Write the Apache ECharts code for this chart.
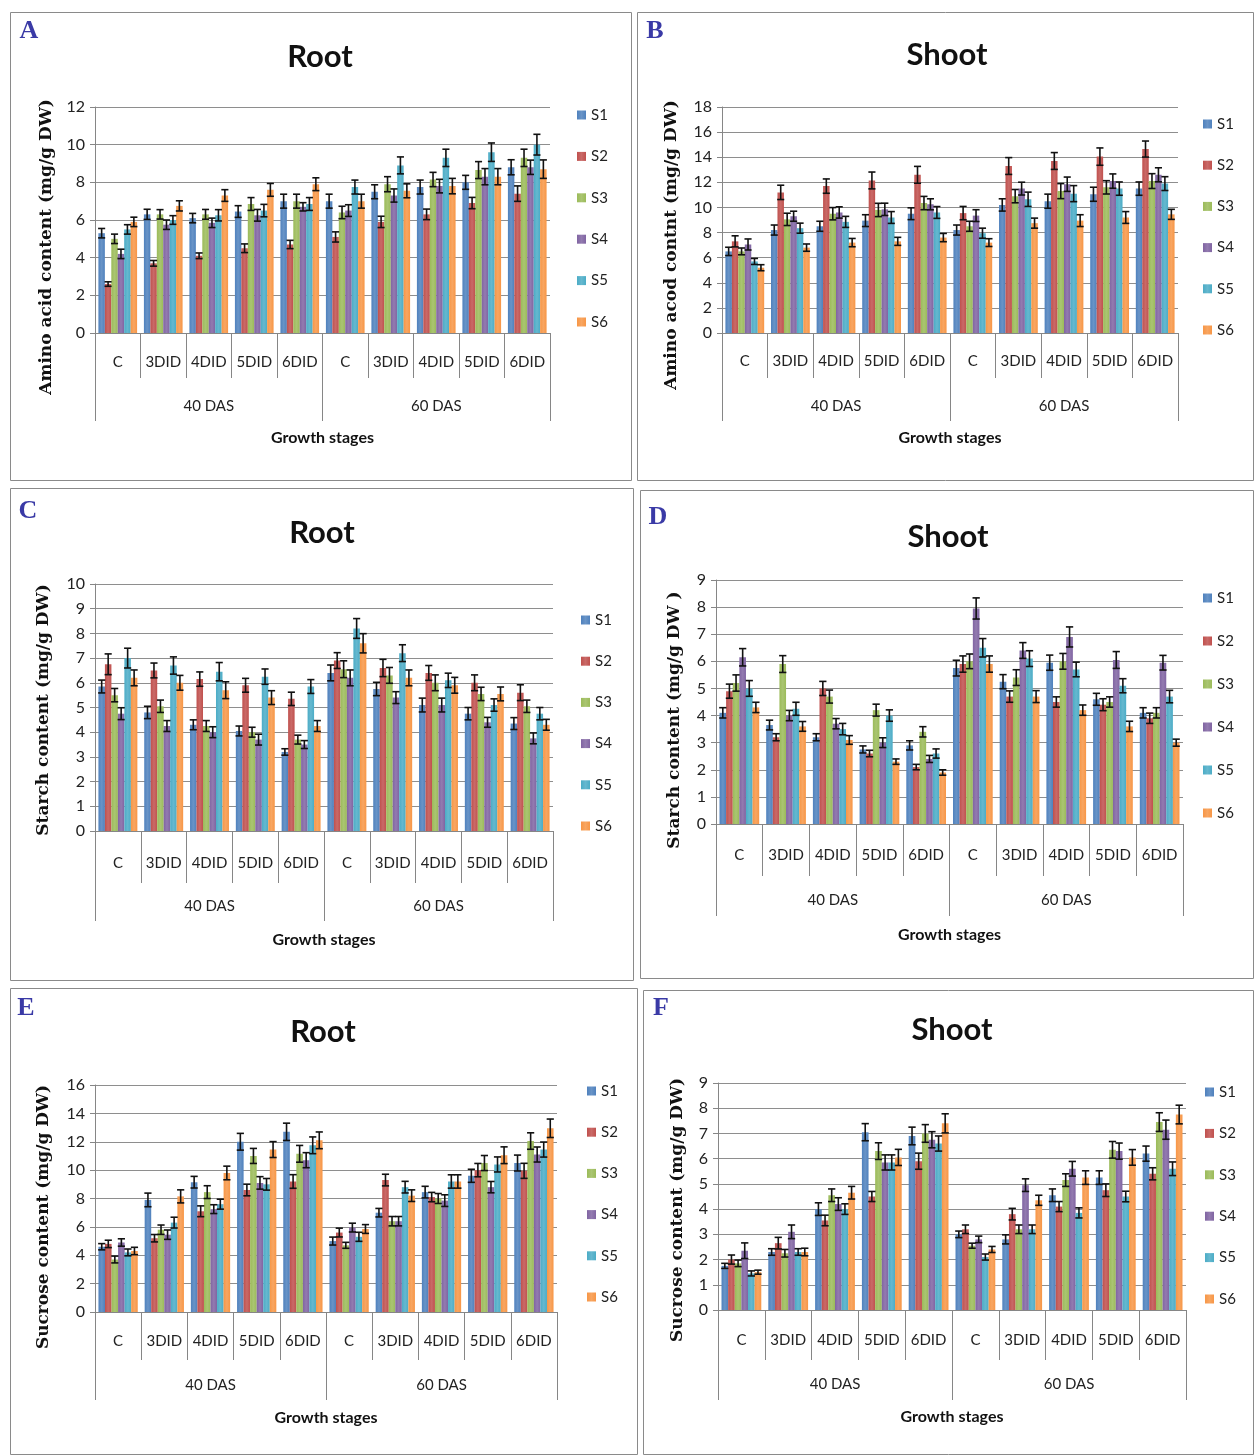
<!DOCTYPE html>
<html><head><meta charset="utf-8">
<script src="https://cdn.jsdelivr.net/npm/echarts@6/dist/echarts.min.js"></script>
<style>html,body{margin:0;padding:0;background:#fff}#c{width:1254px;height:1455px}</style>
</head><body><div id="c"></div><script>
// ---------------- DATA ----------------
const categories = ['C','3DID','4DID','5DID','6DID','C','3DID','4DID','5DID','6DID'];
const stages = ['40 DAS','60 DAS'];
const seriesNames = ['S1','S2','S3','S4','S5','S6'];

// A: Root amino acid (rows S1..S6, columns = categories)
const rootAminoMean = [
 [5.3, 6.3, 6.1, 6.45, 7.0, 7.0, 7.5, 7.75, 8.0, 8.8],
 [2.6, 3.7, 4.1, 4.5, 4.7, 5.1, 5.9, 6.3, 6.9, 7.4],
 [5.0, 6.3, 6.3, 6.85, 7.0, 6.4, 7.9, 8.15, 8.65, 9.3],
 [4.2, 5.75, 5.85, 6.25, 6.7, 6.5, 7.3, 7.8, 8.3, 8.8],
 [5.5, 6.0, 6.25, 6.5, 6.85, 7.75, 8.9, 9.3, 9.6, 10.0],
 [5.9, 6.75, 7.3, 7.6, 7.9, 7.0, 7.55, 7.8, 8.3, 8.7]];
const rootAminoErr = [
 [0.25,0.27,0.25,0.31,0.37,0.37,0.37,0.37,0.37,0.4],
 [0.12,0.15,0.15,0.23,0.22,0.27,0.3,0.28,0.3,0.41],
 [0.25,0.25,0.26,0.34,0.37,0.33,0.4,0.38,0.45,0.46],
 [0.25,0.25,0.25,0.31,0.22,0.31,0.35,0.36,0.43,0.38],
 [0.25,0.23,0.3,0.33,0.34,0.37,0.45,0.46,0.49,0.55],
 [0.25,0.27,0.31,0.34,0.34,0.37,0.37,0.41,0.43,0.49]];
const rootAminoTicks = [0,2,4,6,8,10,12];

// B: Shoot amino acid
const shootAminoMean = [
 [6.5, 8.2, 8.5, 8.95, 9.5, 8.2, 10.2, 10.5, 11.05, 11.5],
 [7.3, 11.2, 11.7, 12.15, 12.6, 9.55, 13.3, 13.7, 14.05, 14.65],
 [6.5, 9.05, 9.5, 9.8, 10.35, 8.5, 10.9, 11.3, 11.6, 12.1],
 [7.05, 9.3, 9.6, 9.85, 10.25, 9.35, 11.5, 11.85, 12.1, 12.6],
 [5.7, 8.35, 8.85, 9.2, 9.6, 7.95, 10.65, 11.1, 11.5, 11.9],
 [5.2, 6.8, 7.2, 7.3, 7.6, 7.2, 8.75, 8.95, 9.2, 9.45]];
const shootAminoErr = [
 [0.33,0.4,0.4,0.47,0.47,0.4,0.49,0.56,0.56,0.53],
 [0.44,0.57,0.57,0.67,0.67,0.53,0.67,0.67,0.69,0.64],
 [0.27,0.49,0.49,0.53,0.53,0.4,0.53,0.6,0.53,0.59],
 [0.44,0.4,0.45,0.49,0.44,0.47,0.51,0.57,0.57,0.56],
 [0.24,0.4,0.44,0.47,0.47,0.4,0.57,0.64,0.53,0.55],
 [0.24,0.29,0.33,0.32,0.33,0.31,0.4,0.47,0.47,0.4]];
const shootAminoTicks = [0,2,4,6,8,10,12,14,16,18];

// C: Root starch
const rootStarchMean = [
 [5.85, 4.8, 4.3, 4.05, 3.2, 6.4, 5.75, 5.1, 4.75, 4.35],
 [6.75, 6.5, 6.15, 5.9, 5.35, 6.9, 6.6, 6.4, 6.0, 5.6],
 [5.5, 5.05, 4.25, 4.0, 3.7, 6.55, 6.3, 6.0, 5.55, 5.05],
 [4.75, 4.25, 4.0, 3.7, 3.5, 6.2, 5.4, 5.1, 4.4, 3.75],
 [7.0, 6.7, 6.45, 6.25, 5.85, 8.2, 7.2, 6.1, 5.1, 4.75],
 [6.2, 6.0, 5.7, 5.4, 4.25, 7.6, 6.2, 5.9, 5.55, 4.3]];
const rootStarchErr = [
 [0.26,0.25,0.2,0.2,0.13,0.32,0.27,0.28,0.25,0.24],
 [0.42,0.3,0.29,0.28,0.27,0.32,0.35,0.3,0.32,0.32],
 [0.27,0.25,0.22,0.2,0.18,0.34,0.32,0.32,0.27,0.25],
 [0.24,0.22,0.22,0.22,0.16,0.32,0.24,0.28,0.2,0.22],
 [0.4,0.35,0.37,0.31,0.28,0.4,0.34,0.29,0.25,0.25],
 [0.32,0.3,0.34,0.28,0.22,0.39,0.32,0.32,0.28,0.22]];
const rootStarchTicks = [0,1,2,3,4,5,6,7,8,9,10];

// D: Shoot starch
const shootStarchMean = [
 [4.1, 3.65, 3.2, 2.75, 2.9, 5.75, 5.25, 5.95, 4.6, 4.1],
 [4.9, 3.2, 5.0, 2.6, 2.1, 5.9, 4.7, 4.5, 4.4, 3.9],
 [5.2, 5.9, 4.7, 4.2, 3.4, 6.0, 5.4, 6.0, 4.5, 4.1],
 [6.15, 4.0, 3.7, 3.0, 2.4, 7.95, 6.4, 6.9, 6.05, 5.95],
 [5.0, 4.25, 3.5, 4.0, 2.6, 6.5, 6.1, 5.7, 5.1, 4.7],
 [4.3, 3.6, 3.1, 2.3, 1.9, 5.9, 4.7, 4.2, 3.6, 3.0]];
const shootStarchErr = [
 [0.19,0.18,0.13,0.13,0.17,0.29,0.26,0.28,0.22,0.19],
 [0.26,0.13,0.26,0.12,0.1,0.3,0.21,0.19,0.22,0.19],
 [0.3,0.31,0.24,0.22,0.19,0.27,0.29,0.29,0.19,0.19],
 [0.32,0.19,0.19,0.18,0.13,0.39,0.29,0.37,0.31,0.27],
 [0.29,0.24,0.21,0.21,0.17,0.34,0.29,0.27,0.26,0.23],
 [0.19,0.18,0.16,0.1,0.1,0.3,0.22,0.19,0.19,0.13]];
const shootStarchTicks = [0,1,2,3,4,5,6,7,8,9];

// E: Root sucrose
const rootSucroseMean = [
 [4.6, 7.9, 9.15, 12.0, 12.7, 5.0, 7.0, 8.45, 9.6, 10.5],
 [4.8, 5.2, 7.1, 8.6, 9.2, 5.6, 9.3, 8.1, 10.0, 9.95],
 [3.7, 5.8, 8.45, 11.0, 11.15, 4.7, 6.4, 8.0, 10.5, 12.05],
 [4.9, 5.45, 7.25, 9.1, 10.7, 5.95, 6.4, 7.85, 8.8, 11.1],
 [4.2, 6.3, 7.6, 9.0, 11.75, 5.3, 8.8, 9.2, 10.4, 11.45],
 [4.3, 8.15, 9.8, 11.45, 12.1, 5.85, 8.2, 9.2, 11.05, 12.95]];
const rootSucroseErr = [
 [0.22,0.48,0.41,0.59,0.61,0.28,0.3,0.41,0.46,0.56],
 [0.26,0.26,0.38,0.41,0.48,0.31,0.41,0.33,0.47,0.53],
 [0.24,0.33,0.45,0.53,0.59,0.21,0.33,0.35,0.53,0.58],
 [0.26,0.33,0.31,0.44,0.53,0.31,0.33,0.41,0.4,0.53],
 [0.24,0.38,0.35,0.41,0.59,0.32,0.41,0.47,0.53,0.53],
 [0.26,0.46,0.48,0.56,0.59,0.31,0.41,0.47,0.59,0.65]];
const rootSucroseTicks = [0,2,4,6,8,10,12,14,16];

// F: Shoot sucrose
const shootSucroseMean = [
 [1.75, 2.3, 4.0, 7.05, 6.9, 3.0, 2.8, 4.55, 5.25, 6.2],
 [2.0, 2.65, 3.55, 4.5, 5.9, 3.2, 3.8, 4.1, 4.75, 5.4],
 [1.85, 2.25, 4.55, 6.3, 7.0, 2.55, 3.2, 5.15, 6.35, 7.45],
 [2.35, 3.1, 4.2, 5.85, 6.75, 2.8, 4.95, 5.6, 6.3, 7.15],
 [1.45, 2.3, 4.0, 5.85, 6.6, 2.1, 3.2, 3.85, 4.5, 5.6],
 [1.5, 2.3, 4.65, 6.05, 7.4, 2.4, 4.35, 5.25, 6.05, 7.75]];
const shootSucroseErr = [
 [0.1,0.13,0.25,0.34,0.35,0.13,0.18,0.25,0.27,0.3],
 [0.18,0.23,0.21,0.2,0.32,0.17,0.23,0.2,0.25,0.24],
 [0.13,0.15,0.25,0.33,0.35,0.1,0.17,0.25,0.33,0.37],
 [0.31,0.27,0.25,0.3,0.32,0.13,0.25,0.29,0.32,0.38],
 [0.1,0.13,0.21,0.3,0.3,0.12,0.17,0.2,0.21,0.27],
 [0.08,0.15,0.25,0.32,0.38,0.12,0.2,0.27,0.31,0.37]];
const shootSucroseTicks = [0,1,2,3,4,5,6,7,8,9];

// ---------------- STYLE / LAYOUT ----------------
const colors = ['#4F81BD','#C0504D','#9BBB59','#8064A2','#4BACC6','#F79646'];
const CAT_GAP = 0.15;
const FONT = 'Lato';
const panels = [
 {letter:'A', title:'Root', yTitle:'Amino acid content (mg/g DW)', mean:rootAminoMean, err:rootAminoErr, ticks:rootAminoTicks,
  box:[10,12,621,468], letterPos:[29,31], titlePos:[320,57], yTitlePos:[47,247], grid:[95,107,455,226],
  legend:[577,115,41.4], row1:29, sep1:45, row2:73, sep2:88, gs:105},
 {letter:'B', title:'Shoot', yTitle:'Amino acod contnt (mg/g DW)', mean:shootAminoMean, err:shootAminoErr, ticks:shootAminoTicks,
  box:[637,12,616,468], letterPos:[655,31], titlePos:[947,55], yTitlePos:[672,245], grid:[722,107,456,226],
  legend:[1203,124,41.2], row1:28, sep1:45, row2:73, sep2:88, gs:105},
 {letter:'C', title:'Root', yTitle:'Starch content (mg/g DW)', mean:rootStarchMean, err:rootStarchErr, ticks:rootStarchTicks,
  box:[10,488,623,492], letterPos:[28,511], titlePos:[322,533], yTitlePos:[44,710], grid:[95,584,458,247],
  legend:[581,620,41.2], row1:32, sep1:52, row2:75, sep2:90, gs:109},
 {letter:'D', title:'Shoot', yTitle:'Starch content (mg/g DW )', mean:shootStarchMean, err:shootStarchErr, ticks:shootStarchTicks,
  box:[640,490,613,488], letterPos:[658,517], titlePos:[948,537], yTitlePos:[675,720], grid:[716,580,467,244],
  legend:[1203,598,43], row1:31, sep1:52, row2:76, sep2:92, gs:111},
 {letter:'E', title:'Root', yTitle:'Sucrose content (mg/g DW)', mean:rootSucroseMean, err:rootSucroseErr, ticks:rootSucroseTicks,
  box:[10,988,627,466], letterPos:[26,1008], titlePos:[323,1032], yTitlePos:[44,1217], grid:[95,1085,462,227],
  legend:[587,1091,41.2], row1:29, sep1:48, row2:73, sep2:88, gs:106},
 {letter:'F', title:'Shoot', yTitle:'Sucrose content (mg/g DW)', mean:shootSucroseMean, err:shootSucroseErr, ticks:shootSucroseTicks,
  box:[643,990,610,464], letterPos:[661,1008], titlePos:[952,1030], yTitlePos:[678,1210], grid:[718,1083,468,227],
  legend:[1205,1092,41.4], row1:30, sep1:50, row2:74, sep2:90, gs:107}
];

function lighten(hex, f){
  const n=parseInt(hex.slice(1),16); let r=n>>16,g=(n>>8)&255,b=n&255;
  r=Math.round(r+(255-r)*f); g=Math.round(g+(255-g)*f); b=Math.round(b+(255-b)*f);
  return 'rgb('+r+','+g+','+b+')';
}
function barFill(c){
  return {type:'linear',x:0,y:0,x2:1,y2:0,colorStops:[
    {offset:0,color:c},{offset:0.5,color:lighten(c,0.15)},{offset:1,color:c}]};
}
function errRender(params, api){
  const ci=api.value(0), v=api.value(1), e=api.value(2), si=api.value(3);
  const band=api.size([1,0])[0];
  const total=band*(1-CAT_GAP), bw=total/6;
  const base=api.coord([ci,v]);
  const x=base[0]-total/2+bw*(si+0.5);
  const yt=api.coord([ci,v+e])[1], yb=api.coord([ci,v-e])[1];
  const hw=bw*0.55;
  const st={stroke:'#111',lineWidth:1.6};
  return {type:'group',children:[
    {type:'line',shape:{x1:x,y1:yt,x2:x,y2:yb},style:st},
    {type:'line',shape:{x1:x-hw,y1:yt,x2:x+hw,y2:yt},style:st},
    {type:'line',shape:{x1:x-hw,y1:yb,x2:x+hw,y2:yb},style:st}]};
}

const option = {animation:false, grid:[], xAxis:[], yAxis:[], series:[], legend:[], graphic:[]};
const axisGray = '#868686', gridGray = '#8e8e8e';

panels.forEach((p, pi) => {
  const [gl,gt,gw,gh] = p.grid;
  option.grid.push({left:gl, top:gt, width:gw, height:gh, containLabel:false});
  option.xAxis.push({type:'category', gridIndex:pi, data:categories, position:'bottom',
    axisLine:{show:true, lineStyle:{color:axisGray, width:1}},
    axisTick:{show:true, interval:0, length:p.sep1, lineStyle:{color:axisGray}},
    axisLabel:{interval:0, margin:p.row1, verticalAlign:'middle', color:'#222', fontFamily:FONT, fontSize:15},
    splitLine:{show:false}});
  option.xAxis.push({type:'category', gridIndex:pi, data:stages, position:'bottom',
    axisLine:{show:false},
    axisTick:{show:true, interval:0, length:p.sep2, lineStyle:{color:axisGray}},
    axisLabel:{interval:0, margin:p.row2, verticalAlign:'middle', color:'#222', fontFamily:FONT, fontSize:15},
    splitLine:{show:false}});
  const t = p.ticks;
  option.yAxis.push({type:'value', gridIndex:pi, min:t[0], max:t[t.length-1], interval:t[1]-t[0],
    axisLine:{show:true, lineStyle:{color:axisGray}},
    axisTick:{show:true, length:5, lineStyle:{color:axisGray}},
    axisLabel:{margin:10, color:'#222', fontFamily:FONT, fontSize:16},
    splitLine:{show:true, lineStyle:{color:gridGray, width:1}}});
  const errData = [];
  seriesNames.forEach((nm, si) => {
    option.series.push({type:'bar', name:nm, xAxisIndex:pi*2, yAxisIndex:pi,
      data:p.mean[si], barGap:'0%', barCategoryGap:(CAT_GAP*100)+'%',
      itemStyle:{color:barFill(colors[si])}, z:2});
    p.mean[si].forEach((v, ci) => errData.push([ci, v, p.err[si][ci], si]));
  });
  option.series.push({type:'custom', name:'err'+p.letter, xAxisIndex:pi*2, yAxisIndex:pi,
    data:errData, encode:{x:0, y:1}, renderItem:errRender, z:5, silent:true});
  const [lx, ly, lgap] = p.legend;
  option.legend.push({orient:'vertical', left:lx, top:ly-8, padding:0, data:seriesNames, icon:'rect',
    itemWidth:9, itemHeight:9, itemGap:lgap-16, itemTextGap:6,
    textStyle:{fontFamily:FONT, fontSize:15, color:'#222', lineHeight:16}});
  const [bx,by,bw,bh] = p.box;
  option.graphic.push({type:'rect', shape:{x:bx+0.5,y:by+0.5,width:bw,height:bh}, style:{fill:null, stroke:'#8a8a8a', lineWidth:1}, z:-1});
  option.graphic.push({type:'text', x:p.letterPos[0], y:p.letterPos[1],
    style:{text:p.letter, align:'center', verticalAlign:'middle', font:'bold 26px "Liberation Serif"', fill:'#3a3aa6'}});
  option.graphic.push({type:'text', x:p.titlePos[0], y:p.titlePos[1],
    style:{text:p.title, align:'center', verticalAlign:'middle', font:'bold 31px '+FONT, fill:'#111'}});
  option.graphic.push({type:'text', x:p.yTitlePos[0], y:p.yTitlePos[1], rotation:Math.PI/2,
    style:{text:p.yTitle, align:'center', verticalAlign:'middle', font:'bold 17px "DejaVu Serif"', fill:'#111'}});
  option.graphic.push({type:'text', x:gl+gw/2, y:gt+gh+p.gs,
    style:{text:'Growth stages', align:'center', verticalAlign:'middle', font:'bold 16px '+FONT, fill:'#111'}});
});

const chart = echarts.init(document.getElementById('c'), null, {renderer:'canvas'});
chart.setOption(option);
</script></body></html>
